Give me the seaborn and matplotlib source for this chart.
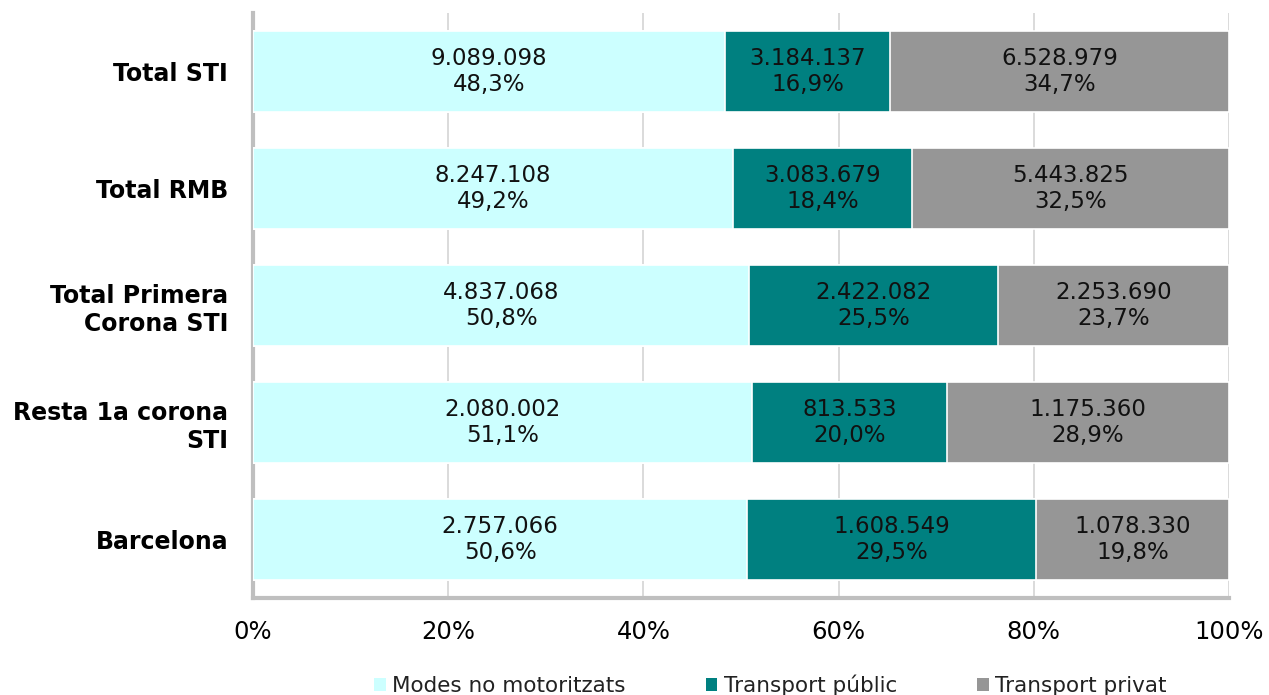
import numpy as np
import pandas as pd
import matplotlib.pyplot as plt
import seaborn as sns
from matplotlib.patches import Patch

categories = ['Total STI', 'Total RMB', 'Total Primera\nCorona STI', 'Resta 1a corona\nSTI', 'Barcelona']
series = ['Modes no motoritzats', 'Transport públic', 'Transport privat']
no_motor = [9089098, 8247108, 4837068, 2080002, 2757066]
public = [3184137, 3083679, 2422082, 813533, 1608549]
private = [6528979, 5443825, 2253690, 1175360, 1078330]
pct_no_motor = [48.3, 49.2, 50.8, 51.1, 50.6]
pct_public = [16.9, 18.4, 25.5, 20.0, 29.5]
pct_private = [34.7, 32.5, 23.7, 28.9, 19.8]
colors = ['#CCFFFF', '#008080', '#969696']

df = pd.DataFrame({'cat': categories, 'a': no_motor, 'b': public, 'c': private})
tot = df[['a', 'b', 'c']].sum(axis=1)
df['sa'] = df['a'] / tot * 100
df['sb'] = df['b'] / tot * 100
df['sc'] = df['c'] / tot * 100

sns.set_style('white')
plt.rcParams['font.family'] = ['DejaVu Sans']

fig = plt.figure(figsize=(12.69, 6.95), dpi=100)
ax = fig.add_axes([0.1994, 0.1396, 0.7691, 0.8417])

# stacked via cumulative layers, drawn back to front
cum3 = df['sa'] + df['sb'] + df['sc']
cum2 = df['sa'] + df['sb']
cum1 = df['sa']
for vals, col in [(cum3, colors[2]), (cum2, colors[1]), (cum1, colors[0])]:
    sns.barplot(x=vals, y=df['cat'], orient='h', color=col, width=0.7, saturation=1,
                edgecolor='white', linewidth=1.2, ax=ax, zorder=3)

def fmt(n):
    return f'{n:,}'.replace(',', '.')

lefts = [np.zeros(5), df['sa'].values, cum2.values]
widths = [df['sa'].values, df['sb'].values, df['sc'].values]
vals_all = [no_motor, public, private]
pcts = [pct_no_motor, pct_public, pct_private]
for k in range(3):
    for i in range(5):
        xc = lefts[k][i] + widths[k][i] / 2
        txt = fmt(vals_all[k][i]) + '\n' + f'{pcts[k][i]:.1f}'.replace('.', ',') + '%'
        ax.text(xc, i, txt, ha='center', va='center', fontsize=16.5, color='#111111',
                zorder=5, linespacing=1.2)

ax.set_xlim(0, 100)
ax.set_ylim(4.5, -0.5)
ax.set_xticks([0, 20, 40, 60, 80, 100])
ax.set_xticklabels(['0%', '20%', '40%', '60%', '80%', '100%'], fontsize=17.5, color='black')
ax.tick_params(axis='x', pad=16, length=0)
ax.tick_params(axis='y', pad=18, length=0)
for lab in ax.get_yticklabels():
    lab.set_fontweight('bold')
    lab.set_fontsize(17)
    lab.set_color('black')
    lab.set_horizontalalignment('right')
ax.set_xlabel('')
ax.set_ylabel('')
ax.grid(axis='x', color='#D4D4D4', linewidth=1.2, zorder=0)
ax.grid(axis='y', visible=False)
for s in ['top', 'right']:
    ax.spines[s].set_visible(False)
for s in ['left', 'bottom']:
    ax.spines[s].set_color('#BFBFBF')
    ax.spines[s].set_linewidth(3)

handles = [Patch(facecolor=c, edgecolor='none') for c in colors]
fig.legend(handles, series, loc='lower center', bbox_to_anchor=(0.607, -0.03), ncol=3,
           frameon=False, fontsize=15.5, handlelength=0.55, handleheight=0.55,
           handletextpad=0.3, columnspacing=3.7, labelcolor='#222222')

fig.savefig('out.png', dpi=100)
